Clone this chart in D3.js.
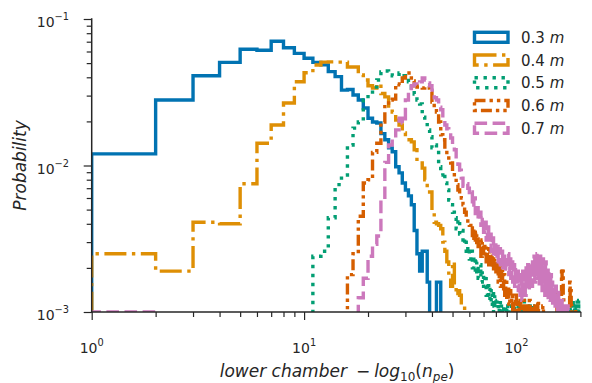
<!DOCTYPE html>
<html>
<head>
<meta charset="utf-8">
<script src="https://cdn.jsdelivr.net/npm/d3@7"></script>
<style>
  html, body { margin: 0; padding: 0; background: #ffffff; }
  svg { display: block; }
  text { font-family: "DejaVu Sans", sans-serif; fill: #262626; }
</style>
</head>
<body>
<svg id="chart" width="592" height="383"></svg>
<script>
// Histogram bins: unit-width bins with edges 1, 2, ..., 200.
const firstEdge = 1;
const lastEdge = 200;

// Series labels (detector depth, metres).
const depthLabels = ["0.3", "0.4", "0.5", "0.6", "0.7"];

// Per-bin probabilities, starting at bin [1, 2). A 0 means an empty bin.
const prob03 = [
  0.012, 0.028, 0.041, 0.0506, 0.0621, 0.0612, 0.0705, 0.0637, 0.0583, 0.054,
  0.0506, 0.0486, 0.0437, 0.0404, 0.0327, 0.033, 0.0303, 0.028, 0.0247, 0.021,
  0.0198, 0.0195, 0.0165, 0.015, 0.0132, 0.0124, 0.0098, 0.0089, 0.0076, 0.0068,
  0.0062, 0.0054, 0.0036, 0.0025, 0.0019, 0.0026, 0.0026, 0.0016, 0, 0,
  0, 0.0016, 0.0016
];

const prob04 = [
  0.0025, 0.0019, 0.0041, 0.0040, 0.0075, 0.0142, 0.0189, 0.0267, 0.0373, 0.043,
  0.0485, 0.0508, 0.051, 0.0508, 0.0508, 0.047, 0.047, 0.0415, 0.0383, 0.035,
  0.0338, 0.036, 0.031, 0.0294, 0.0247, 0.0232, 0.0204, 0.0189, 0.0167, 0.015,
  0.015, 0.0145, 0.0128, 0.0106, 0.0104, 0.0096, 0.008, 0.0068, 0.0066, 0.0048,
  0.0041, 0.004, 0.0039, 0.0037, 0.003, 0.0026, 0.0022, 0.0017, 0.0015, 0.0022,
  0.0015, 0.0013, 0.0014, 0.0013, 0.0011, 0.0011
];

const prob05 = [
  0, 0, 0, 0, 0, 0, 0, 0, 0, 0,
  0.0024, 0.0026, 0.0044, 0.0074, 0.0086, 0.0138, 0.018, 0.0198, 0.028, 0.0317,
  0.0343, 0.0383, 0.0435, 0.0442, 0.0415, 0.041, 0.042, 0.0428, 0.041, 0.0396,
  0.0372, 0.0338, 0.0308, 0.028, 0.0263, 0.0214, 0.0204, 0.0175, 0.0157, 0.0132,
  0.0138, 0.0128, 0.0098, 0.0086, 0.009, 0.0076, 0.0068, 0.0058, 0.0054, 0.0048,
  0.0044, 0.0037, 0.0043, 0.0034, 0.0036, 0.0029, 0.0032, 0.0025, 0.0028, 0.0023,
  0.0026, 0.0020, 0.0024, 0.0018, 0.0022, 0.0017, 0.0021, 0.0016, 0.0019, 0.0015,
  0.0018, 0.0013, 0.0016, 0.0012, 0.0015, 0.0011, 0.0014, 0, 0.0013, 0.0011,
  0.0012, 0, 0.0011, 0.0012, 0, 0.0011, 0, 0, 0.0011, 0,
  0.0011, 0, 0.001, 0.0011, 0, 0, 0.0011, 0, 0.001, 0,
  0.0012, 0, 0.0011, 0.0012, 0, 0.0011, 0, 0.0012, 0.0011, 0,
  0, 0.0011, 0, 0, 0.0011, 0, 0, 0, 0.0011, 0,
  0, 0, 0, 0, 0, 0, 0, 0, 0, 0,
  0, 0, 0, 0, 0, 0, 0, 0, 0, 0,
  0, 0, 0, 0, 0, 0, 0, 0, 0, 0,
  0, 0, 0, 0, 0, 0, 0, 0, 0, 0,
  0, 0, 0, 0, 0, 0, 0, 0, 0, 0,
  0, 0, 0, 0, 0, 0, 0, 0, 0.0011, 0,
  0.0011, 0.0011, 0, 0, 0.0012, 0.0011, 0, 0.0011, 0, 0,
  0.0011, 0.0012, 0, 0.0011, 0.0011, 0, 0.0012, 0.0011, 0
];

const prob06 = [
  0, 0, 0, 0, 0, 0, 0, 0, 0, 0,
  0, 0, 0, 0, 0, 0.0018, 0.0025, 0.0045, 0.0076, 0.008,
  0.0123, 0.0142, 0.0198, 0.026, 0.028, 0.0284, 0.036, 0.0355, 0.0396, 0.0428,
  0.0428, 0.0377, 0.035, 0.0343, 0.0343, 0.0338, 0.0343, 0.0338, 0.0317, 0.0271,
  0.0247, 0.0232, 0.0198, 0.0162, 0.015, 0.0128, 0.0118, 0.0109, 0.0104, 0.009,
  0.0083, 0.0074, 0.0068, 0.0063, 0.006, 0.0054, 0.0048, 0.0043, 0.004, 0.0039,
  0.0040, 0.0031, 0.0037, 0.0029, 0.0034, 0.0027, 0.0031, 0.0024, 0.0030, 0.0025,
  0.0029, 0.0022, 0.0027, 0.0021, 0.0026, 0.0020, 0.0024, 0.0019, 0.0023, 0.0018,
  0.0022, 0.0016, 0.0020, 0.0015, 0.0019, 0.0014, 0.0018, 0.0013, 0.0016, 0.0012,
  0.0015, 0.0011, 0.0014, 0.0012, 0.0013, 0, 0.0012, 0.0011, 0.0013, 0,
  0.0012, 0.0011, 0, 0.0012, 0.0011, 0, 0.0011, 0.0012, 0, 0.0011,
  0, 0, 0.0011, 0, 0.0012, 0, 0, 0.0011, 0, 0,
  0, 0.0011, 0, 0, 0, 0.0012, 0, 0, 0, 0,
  0, 0, 0.0011, 0, 0, 0, 0, 0, 0, 0,
  0, 0, 0, 0, 0, 0, 0, 0, 0, 0,
  0, 0, 0, 0, 0.0014, 0.0012, 0, 0, 0, 0,
  0, 0, 0.002, 0.0017, 0.0019, 0.0013, 0, 0, 0, 0,
  0, 0, 0, 0, 0, 0, 0, 0.0016, 0.0012, 0.0014,
  0.0011, 0, 0, 0, 0, 0, 0, 0, 0.00105, 0,
  0, 0, 0, 0, 0, 0, 0, 0, 0
];

const prob07 = [
  0.001, 0, 0, 0, 0, 0, 0, 0, 0, 0,
  0, 0, 0, 0, 0, 0, 0, 0.00125, 0.0017, 0.0024,
  0.0029, 0.0033, 0.0058, 0.0105, 0.0138, 0.0154, 0.0175, 0.021, 0.0195, 0.028,
  0.0317, 0.035, 0.036, 0.0355, 0.0372, 0.0396, 0.0383, 0.0366, 0.035, 0.0327,
  0.029, 0.028, 0.025, 0.024, 0.021, 0.0189, 0.0178, 0.0175, 0.0154, 0.0138,
  0.0128, 0.011, 0.0102, 0.0093, 0.0082, 0.0072, 0.0074, 0.0075, 0.007, 0.0063,
  0.0066, 0.0052, 0.0060, 0.0047, 0.0053, 0.0042, 0.0048, 0.0039, 0.0044, 0.0035,
  0.0041, 0.0031, 0.0038, 0.0030, 0.0034, 0.0026, 0.0032, 0.0025, 0.0030, 0.0023,
  0.0028, 0.0022, 0.0027, 0.0021, 0.0026, 0.0020, 0.0025, 0.0019, 0.0024, 0.0021,
  0.0025, 0.0018, 0.0023, 0.0017, 0.0022, 0.0016, 0.0021, 0.0015, 0.0020, 0.0016,
  0.0019, 0.0014, 0.0018, 0.0013, 0.0017, 0.0012, 0.0019, 0.0014, 0.0018, 0.0013,
  0.0020, 0.0015, 0.0021, 0.0014, 0.0019, 0.0016, 0.0022, 0.0015, 0.0023, 0.0017,
  0.0024, 0.0016, 0.0022, 0.0018, 0.0025, 0.0017, 0.0023, 0.0015, 0.0024, 0.0018,
  0.0021, 0.0014, 0.0023, 0.0017, 0.0020, 0.0013, 0.0022, 0.0016, 0.0019, 0.0012,
  0.0020, 0.0014, 0.0017, 0.0012, 0.0018, 0.0013, 0.0016, 0.0011, 0.0015, 0.0012,
  0.0014, 0.0011, 0.0015, 0.0012, 0.0013, 0, 0.0014, 0.0011, 0.0012, 0,
  0.0012, 0, 0.0011, 0.0012, 0, 0.0011, 0, 0.0011, 0, 0,
  0.0011, 0, 0, 0.0011, 0, 0, 0, 0, 0, 0,
  0, 0, 0, 0, 0, 0, 0, 0, 0, 0,
  0, 0, 0, 0, 0, 0, 0, 0, 0
];

// Axis tick positions (powers of ten) and ranges.
const xMajorExponents = [0, 1, 2];
const yMajorExponents = [-3, -2, -1];
const xDomain = [firstEdge, lastEdge];
const yDomain = [1e-3, 1e-1];

// ---------------------------------------------------------------------
const seriesValues = [prob03, prob04, prob05, prob06, prob07];
const colors = ["#0173b2", "#de8f05", "#029e73", "#d55e00", "#cc78bc"];
const lw = 3.4;
const dashes = [
  null,                              // solid
  [22, 5.5, 3.4, 5.5],               // dash-dot
  [3.4, 5.6],                        // dotted
  [11, 4, 3.4, 4, 3.4, 4],           // dash-dot-dot
  [12.6, 5.5]                        // dashed
];

const plot = { left: 91.7, right: 580.4, top: 19, bottom: 312 };
const ink = "#262626";

const svg = d3.select("#chart");

const x = d3.scaleLog().domain(xDomain).range([plot.left, plot.right]);
const y = d3.scaleLog().domain(yDomain).range([plot.bottom, plot.top]);

svg.append("defs").append("clipPath").attr("id", "plotClip")
  .append("rect")
  .attr("x", plot.left).attr("y", plot.top)
  .attr("width", plot.right - plot.left)
  .attr("height", plot.bottom - plot.top);

// Empty bins fall far below the visible range; the clip hides them.
const floorValue = 1e-5;

function stepPoints(values) {
  const pts = [[firstEdge, floorValue]];
  values.forEach((v, i) => {
    const val = v > 0 ? v : floorValue;
    pts.push([firstEdge + i, val]);
    pts.push([firstEdge + i + 1, val]);
  });
  pts.push([firstEdge + values.length, floorValue]);
  return pts;
}

const line = d3.line().x(d => x(d[0])).y(d => y(d[1]));

const marks = svg.append("g").attr("clip-path", "url(#plotClip)");
seriesValues.forEach((vals, i) => {
  marks.append("path")
    .attr("d", line(stepPoints(vals)))
    .attr("fill", "none")
    .attr("stroke", colors[i])
    .attr("stroke-width", lw)
    .attr("stroke-linejoin", "miter")
    .attr("stroke-linecap", "butt")
    .attr("stroke-dasharray", dashes[i] ? dashes[i].join(",") : null);
});

// ---- axes ----
const minorX = [];
for (let d = 1; d <= 100; d *= 10) {
  for (let m = 2; m <= 9; m++) if (m * d <= xDomain[1]) minorX.push(m * d);
}
const minorY = [];
for (let d = 1e-3; d < 1e-1 * 0.99; d *= 10) {
  for (let m = 2; m <= 9; m++) minorY.push(m * d);
}

const xAxis = d3.axisBottom(x)
  .tickValues(xMajorExponents.map(e => Math.pow(10, e)))
  .tickSize(8).tickFormat(() => "");
const xAxisMinor = d3.axisBottom(x).tickValues(minorX).tickSize(5).tickFormat(() => "");
const yAxis = d3.axisLeft(y)
  .tickValues(yMajorExponents.map(e => Math.pow(10, e)))
  .tickSize(8).tickFormat(() => "");
const yAxisMinor = d3.axisLeft(y).tickValues(minorY).tickSize(5).tickFormat(() => "");

function styleAxis(g) {
  g.select(".domain").remove();
  g.selectAll(".tick line").attr("stroke", ink).attr("stroke-width", 1.2);
}

const gx = svg.append("g").attr("transform", `translate(0,${plot.bottom})`);
gx.append("g").call(xAxis).call(styleAxis);
gx.append("g").call(xAxisMinor).call(styleAxis);
const gy = svg.append("g").attr("transform", `translate(${plot.left},0)`);
gy.append("g").call(yAxis).call(styleAxis);
gy.append("g").call(yAxisMinor).call(styleAxis);

// spines (left and bottom only)
svg.append("line")
  .attr("x1", plot.left).attr("x2", plot.left)
  .attr("y1", plot.top - 0.75).attr("y2", plot.bottom + 0.75)
  .attr("stroke", ink).attr("stroke-width", 1.5);
svg.append("line")
  .attr("x1", plot.left - 0.75).attr("x2", plot.right + 0.75)
  .attr("y1", plot.bottom).attr("y2", plot.bottom)
  .attr("stroke", ink).attr("stroke-width", 1.5);

// power-of-ten tick labels
function powerLabel(sel, exp) {
  sel.append("tspan").text("10");
  sel.append("tspan")
    .attr("dy", -7)
    .attr("font-size", "9.8px")
    .text(exp < 0 ? "\u2212" + Math.abs(exp) : String(exp));
}

xMajorExponents.forEach(e => {
  const t = svg.append("text")
    .attr("x", x(Math.pow(10, e)))
    .attr("y", 353)
    .attr("text-anchor", "middle")
    .attr("font-size", "14px");
  powerLabel(t, e);
});

yMajorExponents.forEach(e => {
  const t = svg.append("text")
    .attr("x", 69)
    .attr("y", y(Math.pow(10, e)) + 8)
    .attr("text-anchor", "end")
    .attr("font-size", "14px");
  powerLabel(t, e);
});

// axis titles
const xt = svg.append("text")
  .attr("x", (plot.left + plot.right) / 2 + 1)
  .attr("y", 377)
  .attr("text-anchor", "middle")
  .attr("font-size", "17px");
xt.append("tspan").attr("font-style", "italic").text("lower chamber");
xt.append("tspan").attr("dx", 9).text("\u2212");
xt.append("tspan").attr("dx", 4).attr("font-style", "italic").text("log");
xt.append("tspan").attr("font-size", "12px").attr("dy", 3.5).text("10");
xt.append("tspan").attr("dy", -3.5).text("(");
xt.append("tspan").attr("font-style", "italic").text("n");
xt.append("tspan").attr("font-style", "italic").attr("font-size", "12px").attr("dy", 3.5).text("pe");
xt.append("tspan").attr("dy", -3.5).text(")");

svg.append("text")
  .attr("transform", `translate(26,${(plot.top + plot.bottom) / 2}) rotate(-90)`)
  .attr("text-anchor", "middle")
  .attr("font-size", "17px")
  .attr("font-style", "italic")
  .text("Probability");

// legend
const legend = svg.append("g");
depthLabels.forEach((lab, i) => {
  const cy = 37.3 + i * 22.75;
  legend.append("rect")
    .attr("x", 474.5).attr("y", cy - 5)
    .attr("width", 33.5).attr("height", 10)
    .attr("fill", "none")
    .attr("stroke", colors[i])
    .attr("stroke-width", lw)
    .attr("stroke-dasharray", dashes[i] ? dashes[i].join(",") : null);
  const t = legend.append("text")
    .attr("x", 521).attr("y", cy + 5.5)
    .attr("font-size", "15px");
  t.append("tspan").text(lab + " ");
  t.append("tspan").attr("font-style", "italic").text("m");
});
</script>
</body>
</html>
